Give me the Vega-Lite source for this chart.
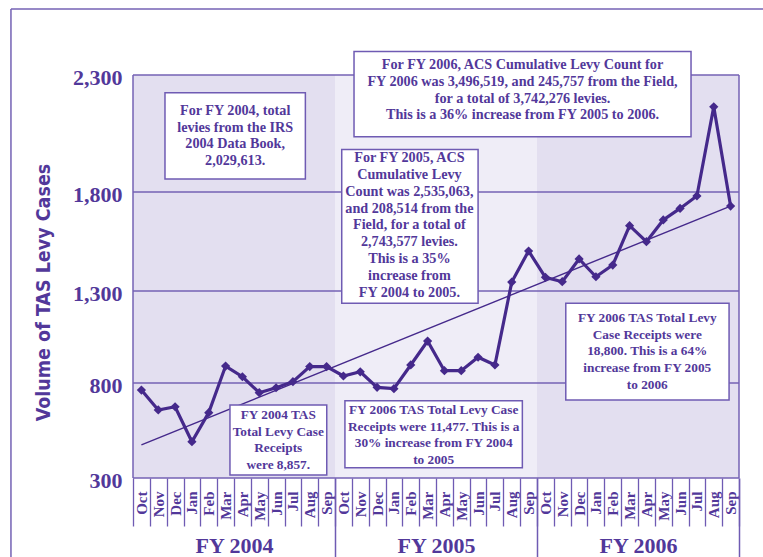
{
  "$schema": "https://vega.github.io/schema/vega-lite/v6.json",
  "width": 606,
  "height": 403,
  "autosize": "none",
  "padding": {"left": 133, "top": 75, "right": 24, "bottom": 79},
  "background": "white",
  "config": {
    "view": {"stroke": null},
    "axisY": {
      "titleFont": "Liberation Sans Narrow, DejaVu Sans Condensed, sans-serif", "titleFontWeight": "bold", "titleFontSize": 19.5,
      "titleColor": "#52389a", "titleX": -90, "titleY": 217, "titleAngle": 270,
      "titleAlign": "center", "titleBaseline": "middle",
      "labelFont": "Liberation Serif", "labelFontWeight": "bold", "labelFontSize": 22,
      "labelColor": "#52389a", "labelOffset": 2,
      "ticks": false, "labelPadding": 11, "domain": false, "grid": false
    }
  },
  "datasets": {
    "monthly": [
      {"period": "FY04-Oct", "levies": 763}, {"period": "FY04-Nov", "levies": 658}, {"period": "FY04-Dec", "levies": 675},
      {"period": "FY04-Jan", "levies": 491}, {"period": "FY04-Feb", "levies": 644}, {"period": "FY04-Mar", "levies": 892},
      {"period": "FY04-Apr", "levies": 834}, {"period": "FY04-May", "levies": 749}, {"period": "FY04-Jun", "levies": 775},
      {"period": "FY04-Jul", "levies": 807}, {"period": "FY04-Aug", "levies": 889}, {"period": "FY04-Sep", "levies": 889},
      {"period": "FY05-Oct", "levies": 838}, {"period": "FY05-Nov", "levies": 861}, {"period": "FY05-Dec", "levies": 777},
      {"period": "FY05-Jan", "levies": 770}, {"period": "FY05-Feb", "levies": 898}, {"period": "FY05-Mar", "levies": 1028},
      {"period": "FY05-Apr", "levies": 867}, {"period": "FY05-May", "levies": 867}, {"period": "FY05-Jun", "levies": 940},
      {"period": "FY05-Jul", "levies": 898}, {"period": "FY05-Aug", "levies": 1345}, {"period": "FY05-Sep", "levies": 1502},
      {"period": "FY06-Oct", "levies": 1369}, {"period": "FY06-Nov", "levies": 1347}, {"period": "FY06-Dec", "levies": 1462},
      {"period": "FY06-Jan", "levies": 1372}, {"period": "FY06-Feb", "levies": 1431}, {"period": "FY06-Mar", "levies": 1630},
      {"period": "FY06-Apr", "levies": 1549}, {"period": "FY06-May", "levies": 1659}, {"period": "FY06-Jun", "levies": 1717},
      {"period": "FY06-Jul", "levies": 1780}, {"period": "FY06-Aug", "levies": 2164}, {"period": "FY06-Sep", "levies": 1729}
    ],
    "years": [{"fy": "FY 2004"}, {"fy": "FY 2005"}, {"fy": "FY 2006"}],
    "levels": [{"level": 300}, {"level": 800}, {"level": 1300}, {"level": 1800}, {"level": 2300}],
    "edges": [{"i": 0}, {"i": 36}],
    "trend": [{"i": 0.5, "v": 474}, {"i": 35.5, "v": 1729}],
    "frame": [
      {"x1": -7.25, "x2": -7.25, "y1": 2582, "y2": -116},
      {"x1": -7.25, "x2": 37.5, "y1": 2582, "y2": 2582}
    ],
    "notes": [
      {"x1": 1.90, "x2": 10.24, "y1": 2224, "y2": 1856},
      {"x1": 12.40, "x2": 20.50, "y1": 1982, "y2": 1233},
      {"x1": 13.13, "x2": 33.15, "y1": 2400, "y2": 2036},
      {"x1": 5.76, "x2": 11.51, "y1": 684, "y2": 316},
      {"x1": 12.59, "x2": 23.13, "y1": 707, "y2": 354},
      {"x1": 25.71, "x2": 35.41, "y1": 1233, "y2": 711}
    ],
    "spacedText": [
      {"tx": 6.07, "ty": 2147, "text": "For FY 2004, total\nlevies from the IRS\n2004 Data Book,\n2,029,613."},
      {"tx": 16.42, "ty": 1944, "text": "For FY 2005, ACS\nCumulative Levy\nCount was 2,535,063,\nand 208,514 from the\nField, for a total of\n2,743,577  levies.\nThis is a 35%\nincrease from\nFY 2004 to 2005."},
      {"tx": 23.14, "ty": 2343, "text": "For FY 2006, ACS Cumulative Levy Count for\nFY 2006 was 3,496,519, and 245,757 from the Field,\nfor a total of 3,742,276 levies.\nThis is a 36% increase from FY 2005 to 2006."}
    ],
    "plainText": [
      {"tx": 8.63, "ty": 632, "text": "FY 2004 TAS\nTotal Levy Case\nReceipts\nwere 8,857."},
      {"tx": 17.86, "ty": 658, "text": "FY 2006 TAS Total Levy Case\nReceipts were 11,477.  This is a\n30% increase from FY 2004\nto 2005"},
      {"tx": 30.55, "ty": 1152, "text": "FY 2006 TAS Total Levy\nCase Receipts were\n18,800.  This is a 64%\nincrease from FY 2005\nto 2006"}
    ]
  },
  "resolve": {"scale": {"x": "independent"}},
  "layer": [
    {
      "data": {"name": "years"},
      "mark": {"type": "rect"},
      "encoding": {
        "x": {
          "field": "fy", "type": "nominal", "sort": null,
          "scale": {"type": "band", "paddingInner": 0, "paddingOuter": 0},
          "axis": {
            "orient": "bottom", "title": null, "domain": false, "grid": false,
            "labelAngle": 0, "labelBaseline": "middle", "labelAlign": "center",
            "labelFont": "Liberation Serif", "labelFontWeight": "bold", "labelFontSize": 22,
            "labelColor": "#52389a",
            "tickBand": "extent", "tickSize": 79, "tickWidth": 1.5,
            "tickColor": {"condition": {"test": "datum.extra", "value": "transparent"}, "value": "#6f5bb3"},
            "labelPadding": -12
          }
        },
        "fill": {
          "field": "fy", "type": "nominal",
          "scale": {"domain": ["FY 2004", "FY 2005", "FY 2006"], "range": ["#e3dff0", "#efedf7", "#e3dff0"]},
          "legend": null
        }
      }
    },
    {
      "data": {"name": "levels"},
      "mark": {"type": "rule", "stroke": "#7462b4", "strokeWidth": 1.3},
      "encoding": {
        "y": {"field": "level", "type": "quantitative", "title": "Volume of TAS Levy Cases",
              "axis": {"values": [300, 800, 1300, 1800, 2300], "format": ",d"},
              "scale": {"domain": [300, 800, 1300, 1800, 2300], "range": [403, 308, 216, 117, 0], "nice": false, "zero": false}}
      }
    },
    {
      "data": {"name": "edges"},
      "mark": {"type": "rule", "stroke": "#7462b4", "strokeWidth": 1.5},
      "encoding": {
        "x": {"field": "i", "type": "quantitative", "scale": {"domain": [0, 36], "nice": false, "zero": false}, "axis": null}
      }
    },
    {
      "data": {"name": "frame"},
      "mark": {"type": "rule", "stroke": "#7462b4", "strokeWidth": 1.5},
      "encoding": {
        "x": {"field": "x1", "type": "quantitative", "scale": {"domain": [0, 36], "nice": false, "zero": false}, "axis": null},
        "x2": {"field": "x2"},
        "y": {"field": "y1", "type": "quantitative", "title": "Volume of TAS Levy Cases",
              "axis": {"values": [300, 800, 1300, 1800, 2300], "format": ",d"},
              "scale": {"domain": [300, 800, 1300, 1800, 2300], "range": [403, 308, 216, 117, 0], "nice": false, "zero": false}},
        "y2": {"field": "y2"}
      }
    },
    {
      "data": {"name": "trend"},
      "mark": {"type": "line", "stroke": "#45298b", "strokeWidth": 1.4},
      "encoding": {
        "x": {"field": "i", "type": "quantitative", "scale": {"domain": [0, 36], "nice": false, "zero": false}, "axis": null},
        "y": {"field": "v", "type": "quantitative", "title": "Volume of TAS Levy Cases",
              "axis": {"values": [300, 800, 1300, 1800, 2300], "format": ",d"},
              "scale": {"domain": [300, 800, 1300, 1800, 2300], "range": [403, 308, 216, 117, 0], "nice": false, "zero": false}}
      }
    },
    {
      "data": {"name": "monthly"},
      "mark": {"type": "line", "stroke": "#45298b", "strokeWidth": 3.2},
      "encoding": {
        "x": {
          "field": "period", "type": "ordinal", "sort": null,
          "scale": {"type": "band", "paddingInner": 0, "paddingOuter": 0},
          "axis": {
            "orient": "bottom", "title": null, "domain": false, "grid": false,
            "labelExpr": "split(datum.value, '-')[1]",
            "labelAngle": -90, "labelAlign": "right", "labelBaseline": "middle",
            "labelFont": "Liberation Serif", "labelFontWeight": "bold", "labelFontSize": 15,
            "labelColor": "#52389a",
            "tickBand": "extent", "tickSize": 48, "tickWidth": 1.3, "tickColor": "#6f5bb3",
            "labelPadding": -35
          }
        },
        "y": {
          "field": "levies", "type": "quantitative", "title": "Volume of TAS Levy Cases",
          "axis": {"values": [300, 800, 1300, 1800, 2300], "format": ",d"},
          "scale": {"domain": [300, 800, 1300, 1800, 2300], "range": [403, 308, 216, 117, 0], "nice": false, "zero": false}
        }
      }
    },
    {
      "data": {"name": "monthly"},
      "mark": {"type": "point", "shape": "diamond", "filled": true, "size": 85, "color": "#45298b", "opacity": 1},
      "encoding": {
        "x": {"field": "period", "type": "ordinal", "sort": null,
              "scale": {"type": "band", "paddingInner": 0, "paddingOuter": 0}, "axis": null},
        "y": {"field": "levies", "type": "quantitative", "title": "Volume of TAS Levy Cases",
              "axis": {"values": [300, 800, 1300, 1800, 2300], "format": ",d"},
              "scale": {"domain": [300, 800, 1300, 1800, 2300], "range": [403, 308, 216, 117, 0], "nice": false, "zero": false}}
      }
    },
    {
      "data": {"name": "notes"},
      "mark": {"type": "rect", "fill": "white", "stroke": "#6f5bb3", "strokeWidth": 1.5},
      "encoding": {
        "x": {"field": "x1", "type": "quantitative", "scale": {"domain": [0, 36], "nice": false, "zero": false}, "axis": null},
        "x2": {"field": "x2"},
        "y": {"field": "y1", "type": "quantitative", "title": "Volume of TAS Levy Cases",
              "axis": {"values": [300, 800, 1300, 1800, 2300], "format": ",d"},
              "scale": {"domain": [300, 800, 1300, 1800, 2300], "range": [403, 308, 216, 117, 0], "nice": false, "zero": false}},
        "y2": {"field": "y2"}
      }
    },
    {
      "data": {"name": "spacedText"},
      "mark": {"type": "text", "lineBreak": "\n", "align": "center", "baseline": "middle",
               "font": "Liberation Serif", "fontWeight": "bold", "fontSize": 14.2, "lineHeight": 16.8, "color": "#52389a"},
      "encoding": {
        "x": {"field": "tx", "type": "quantitative", "scale": {"domain": [0, 36], "nice": false, "zero": false}, "axis": null},
        "y": {"field": "ty", "type": "quantitative", "title": "Volume of TAS Levy Cases",
              "axis": {"values": [300, 800, 1300, 1800, 2300], "format": ",d"},
              "scale": {"domain": [300, 800, 1300, 1800, 2300], "range": [403, 308, 216, 117, 0], "nice": false, "zero": false}},
        "text": {"field": "text"}
      }
    },
    {
      "data": {"name": "plainText"},
      "mark": {"type": "text", "lineBreak": "\n", "align": "center", "baseline": "middle",
               "font": "Liberation Serif", "fontWeight": "bold", "fontSize": 13.3, "lineHeight": 16.6, "color": "#52389a"},
      "encoding": {
        "x": {"field": "tx", "type": "quantitative", "scale": {"domain": [0, 36], "nice": false, "zero": false}, "axis": null},
        "y": {"field": "ty", "type": "quantitative", "title": "Volume of TAS Levy Cases",
              "axis": {"values": [300, 800, 1300, 1800, 2300], "format": ",d"},
              "scale": {"domain": [300, 800, 1300, 1800, 2300], "range": [403, 308, 216, 117, 0], "nice": false, "zero": false}},
        "text": {"field": "text"}
      }
    }
  ]
}
